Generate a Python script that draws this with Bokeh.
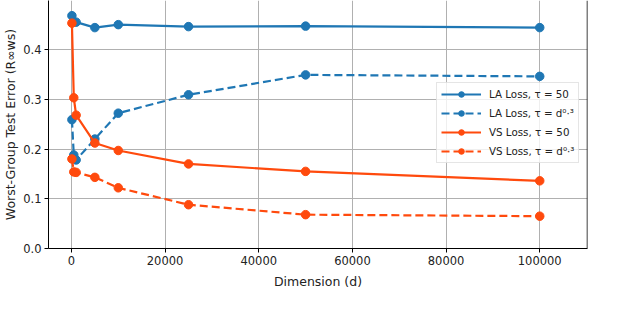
from bokeh.plotting import figure
from bokeh.models import FixedTicker, NumeralTickFormatter, Range1d, Legend, Span
from bokeh.embed import file_html
from bokeh.resources import INLINE

dims = [100, 500, 1000, 5000, 10000, 25000, 50000, 100000]
la_fixed = [0.468, 0.456, 0.455, 0.444, 0.450, 0.446, 0.447, 0.444]
la_pow = [0.259, 0.188, 0.178, 0.220, 0.272, 0.309, 0.349, 0.346]
vs_fixed = [0.453, 0.303, 0.268, 0.212, 0.197, 0.170, 0.155, 0.136]
vs_pow = [0.180, 0.154, 0.153, 0.143, 0.122, 0.088, 0.068, 0.065]

labels = ["LA Loss, τ = 50", "LA Loss, τ = d⁰·³", "VS Loss, τ = 50", "VS Loss, τ = d⁰·³"]
x_ticks = [0, 20000, 40000, 60000, 80000, 100000]
y_ticks = [0.0, 0.1, 0.2, 0.3, 0.4]

BLUE = "#1f77b4"
RED = "#ff4a0d"
FONT = "DejaVu Sans"
X_END = 110200

p = figure(width=612, height=291, output_backend="svg", toolbar_location=None,
           x_range=Range1d(-4900, X_END), y_range=Range1d(0.0, 0.4985),
           min_border_left=0, min_border_right=25, min_border_top=0, min_border_bottom=40)
p.outline_line_color = None
p.background_fill_color = "white"

series = [(la_fixed, BLUE, "solid", labels[0]),
          (la_pow, BLUE, "8 4", labels[1]),
          (vs_fixed, RED, "solid", labels[2]),
          (vs_pow, RED, "8 4", labels[3])]

items = []
for ys, col, dash, lab in series:
    r1 = p.line(dims, ys, line_color=col, line_width=2.2, line_dash=dash)
    r2 = p.scatter(dims, ys, size=8.5, fill_color=col, line_color=col)
    items.append((lab, [r1, r2]))

legend = Legend(items=items, location=(388, 85))
legend.label_text_font = FONT
legend.label_text_font_size = "10.3px"
legend.label_text_color = "#222222"
legend.glyph_width = 40
legend.glyph_height = 14
legend.spacing = 5
legend.padding = 4
legend.margin = 0
legend.label_standoff = 8
legend.border_line_color = "#cccccc"
legend.border_line_width = 1
legend.background_fill_alpha = 0.8
p.add_layout(legend, "center")

for ax in [p.xaxis[0], p.yaxis[0]]:
    ax.axis_line_color = "black"
    ax.axis_line_width = 1
    ax.major_tick_line_color = "black"
    ax.major_tick_out = 4
    ax.major_tick_in = 0
    ax.minor_tick_line_color = None
    ax.major_label_text_font = FONT
    ax.major_label_text_font_size = "11.5px"
    ax.major_label_text_color = "#222222"
    ax.axis_label_text_font = FONT
    ax.axis_label_text_font_size = "12.5px"
    ax.axis_label_text_font_style = "normal"
    ax.axis_label_text_color = "#222222"

p.xaxis[0].ticker = FixedTicker(ticks=x_ticks)
p.xaxis[0].formatter = NumeralTickFormatter(format="0")
p.xaxis[0].axis_label = "Dimension (d)"
p.xaxis[0].axis_label_standoff = 6
p.xaxis[0].major_label_standoff = 3

p.yaxis[0].ticker = FixedTicker(ticks=y_ticks)
p.yaxis[0].formatter = NumeralTickFormatter(format="0.0")
p.yaxis[0].axis_label = "Worst-Group Test Error (R∞ws)"
p.yaxis[0].axis_label_standoff = 2
p.yaxis[0].major_label_standoff = 3

p.add_layout(Span(location=X_END, dimension="height", line_color="black", line_width=1.5))

p.xgrid[0].ticker = FixedTicker(ticks=x_ticks)
p.ygrid[0].ticker = FixedTicker(ticks=y_ticks)
for g in [p.xgrid[0], p.ygrid[0]]:
    g.grid_line_color = "#b0b0b0"
    g.grid_line_width = 1

open("out.html", "w").write(file_html(p, INLINE))
